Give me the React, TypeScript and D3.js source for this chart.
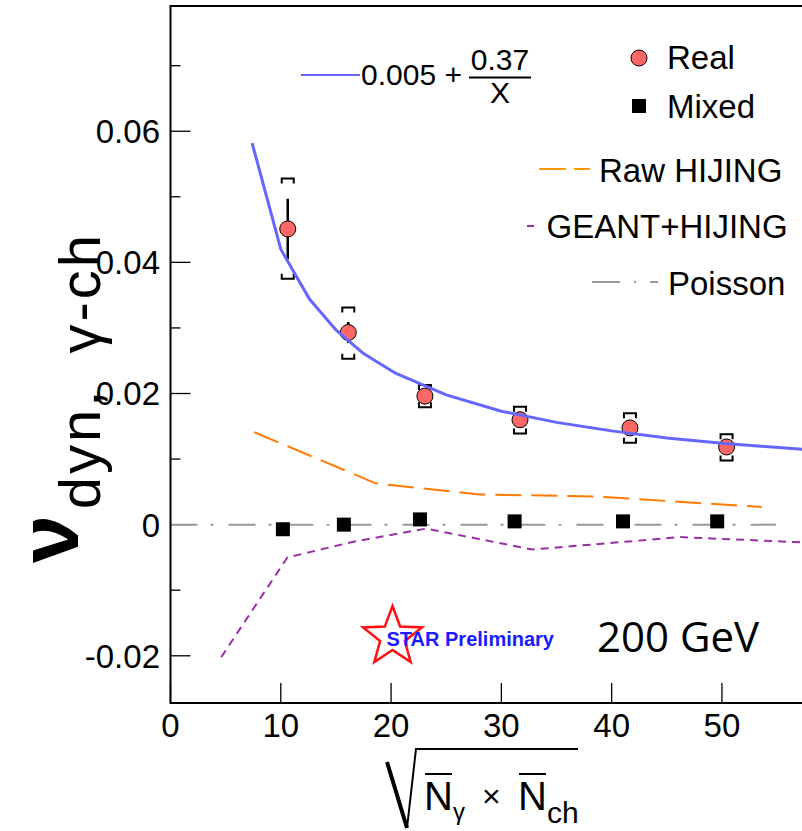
import React from 'react';
import * as d3 from 'd3';

// ---- data ----
const realX = [10.63, 16.12, 23.07, 31.69, 41.66, 50.42];
const realY = [0.0451, 0.0293, 0.0196, 0.016, 0.01475, 0.01185];
const realStat = [0.0046, 0.0016, 0.0008, 0.0008, 0.0008, 0.0008];
const realSysHi = [0.0528, 0.0331, 0.0213, 0.018, 0.017, 0.0138];
const realSysLo = [0.0375, 0.0253, 0.0179, 0.0139, 0.0125, 0.0098];

const mixedX = [10.19, 15.72, 22.62, 31.2, 41.03, 49.57];
const mixedY = [-0.0007, 0.0, 0.0008, 0.0005, 0.0005, 0.0005];

const fitX = [7.4, 10.0, 12.6, 15.0, 17.5, 20.4, 25, 30, 35, 40, 45, 50, 57.35];
const fitY = [0.0582, 0.042, 0.0344, 0.0297, 0.0261, 0.0231, 0.0198, 0.0173, 0.0156, 0.0143, 0.0132, 0.0124, 0.0115];

const rawX = [7.6, 18.6, 28.0, 38.5, 53.6];
const rawY = [0.0141, 0.0063, 0.0046, 0.0043, 0.0027];

const geantX = [4.6, 10.6, 16.6, 23.2, 32.8, 46.2, 57.35];
const geantY = [-0.0202, -0.005, -0.0026, -0.0006, -0.0038, -0.0019, -0.0027];

const poissonX = [0, 54.9];
const poissonY = [0, 0];

const xTicks = [0, 10, 20, 30, 40, 50];
const yTicks = [-0.02, 0, 0.02, 0.04, 0.06];
const yTickLabels = ['-0.02', '0', '0.02', '0.04', '0.06'];
const yMinor = [-0.01, 0.01, 0.03, 0.05, 0.07];

// ---- layout ----
const W = 802;
const H = 831;
const L = 170.5;
const R = 803;
const T = 6;
const B = 703;

const FONT = "'Liberation Sans', Arial, Helvetica, sans-serif";

export default function App() {
  const x = d3.scaleLinear().domain([0, 57.35]).range([L, R]);
  const y = d3.scaleLinear().domain([-0.0272, 0.0791]).range([B, T]);

  const line = d3
    .line<[number, number]>()
    .x((d) => x(d[0]))
    .y((d) => y(d[1]));

  const zip = (a: number[], b: number[]) => a.map((v, i) => [v, b[i]] as [number, number]);

  const star = (cx: number, cy: number, ro: number, ri: number) => {
    const pts: [number, number][] = [];
    for (let i = 0; i < 10; i++) {
      const a = -Math.PI / 2 + (i * Math.PI) / 5;
      const r = i % 2 === 0 ? ro : ri;
      pts.push([cx + r * Math.cos(a), cy + r * Math.sin(a)]);
    }
    return 'M' + pts.map((p) => p.join(',')).join('L') + 'Z';
  };

  const bw = 6; // half-width of systematic brackets
  const bl = 5; // leg length

  return (
    <svg
      width={W}
      height={H}
      style={{ position: 'absolute', left: 0, top: 0, background: '#fff' }}
      fontFamily={FONT}
    >
      <rect x={0} y={0} width={W} height={H} fill="#fff" />
      <defs>
        <clipPath id="plot">
          <rect x={L} y={T} width={R - L} height={B - T} />
        </clipPath>
      </defs>

      {/* y ticks */}
      {yTicks.map((t) => (
        <line key={'ym' + t} x1={L} x2={L + 20} y1={y(t)} y2={y(t)} stroke="#000" strokeWidth={1.3} />
      ))}
      {yMinor.map((t) => (
        <line key={'yn' + t} x1={L} x2={L + 10} y1={y(t)} y2={y(t)} stroke="#000" strokeWidth={1.3} />
      ))}
      {xTicks.map((t) => (
        <line key={'xm' + t} x1={x(t)} x2={x(t)} y1={B} y2={B - 20} stroke="#000" strokeWidth={1.3} />
      ))}

      {/* tick labels */}
      {yTicks.map((t, i) => (
        <text key={'yl' + t} x={160} y={y(t)} dy="0.36em" textAnchor="end" fontSize={33}>
          {yTickLabels[i]}
        </text>
      ))}
      {xTicks.map((t) => (
        <text key={'xl' + t} x={x(t)} y={737} textAnchor="middle" fontSize={33}>
          {t}
        </text>
      ))}

      <g clipPath="url(#plot)">
        {/* Poisson */}
        <path
          d={line(zip(poissonX, poissonY)) || ''}
          fill="none"
          stroke="#999"
          strokeWidth={2}
          strokeDasharray="27 13 3 15"
        />
        {/* Raw HIJING */}
        <path
          d={line(zip(rawX, rawY)) || ''}
          fill="none"
          stroke="#ff7a00"
          strokeWidth={2}
          strokeDasharray="26 10"
        />
        {/* GEANT+HIJING */}
        <path
          d={line(zip(geantX, geantY)) || ''}
          fill="none"
          stroke="#9a2fa5"
          strokeWidth={2}
          strokeDasharray="8 6"
        />

        {/* mixed */}
        {mixedX.map((v, i) => (
          <rect key={'mx' + i} x={x(v) - 7} y={y(mixedY[i]) - 7} width={14} height={14} fill="#000" />
        ))}

        {/* systematic brackets */}
        {realX.map((v, i) => {
          const cx = x(v);
          const yh = y(realSysHi[i]);
          const yl = y(realSysLo[i]);
          return (
            <g key={'sys' + i} fill="none" stroke="#000" strokeWidth={2}>
              <path d={`M${cx - bw},${yh + bl}V${yh}H${cx + bw}V${yh + bl}`} />
              <path d={`M${cx - bw},${yl - bl}V${yl}H${cx + bw}V${yl - bl}`} />
            </g>
          );
        })}
        {/* stat errors */}
        {realX.map((v, i) => (
          <line
            key={'st' + i}
            x1={x(v)}
            x2={x(v)}
            y1={y(realY[i] + realStat[i])}
            y2={y(realY[i] - realStat[i])}
            stroke="#000"
            strokeWidth={2.5}
          />
        ))}
        {/* real markers */}
        {realX.map((v, i) => (
          <circle key={'re' + i} cx={x(v)} cy={y(realY[i])} r={8} fill="#ff6666" stroke="#000" strokeWidth={1} />
        ))}

        {/* fit */}
        <path d={line(zip(fitX, fitY)) || ''} fill="none" stroke="#6666ff" strokeWidth={3} />
      </g>

      {/* frame */}
      <rect x={L} y={T} width={R + 10 - L} height={B - T} fill="none" stroke="#000" strokeWidth={2} />

      {/* fit legend */}
      <line x1={301} x2={360} y1={75} y2={75} stroke="#6666ff" strokeWidth={2} />
      <text x={361} y={85} fontSize={30}>0.005 +</text>
      <text x={500} y={70} fontSize={30} textAnchor="middle">0.37</text>
      <line x1={469} x2={531} y1={77.5} y2={77.5} stroke="#000" strokeWidth={2} />
      <text x={500} y={103} fontSize={30} textAnchor="middle">X</text>

      {/* right legend */}
      <circle cx={639} cy={58} r={8} fill="#ff6666" stroke="#000" strokeWidth={1} />
      <text x={667} y={69} fontSize={33}>Real</text>
      <rect x={632} y={99} width={14} height={14} fill="#000" />
      <text x={667} y={118} fontSize={33}>Mixed</text>

      <line x1={539} x2={590} y1={169} y2={169} stroke="#ff9900" strokeWidth={2} strokeDasharray="27 8" />
      <text x={599} y={181.5} fontSize={33}>Raw HIJING</text>
      <line x1={527} x2={534} y1={226} y2={226} stroke="#9a2fa5" strokeWidth={2} />
      <text x={546.5} y={238} fontSize={33}>GEANT+HIJING</text>
      <line x1={592} x2={658} y1={282} y2={282} stroke="#999" strokeWidth={2} strokeDasharray="28 14 2 14" />
      <text x={668} y={295} fontSize={33}>Poisson</text>

      {/* STAR preliminary */}
      <path d={star(392.5, 637, 31, 13)} fill="none" stroke="#ff1010" strokeWidth={2.5} strokeLinejoin="miter" />
      <text x={386.5} y={646} fontSize={20} fontWeight="bold" fill="#1a1aff">STAR Preliminary</text>
      <text x={597} y={652} fontSize={42} fontFamily="'Open Sans', sans-serif">200 GeV</text>

      {/* y-axis title */}
      <g transform="translate(78, 563) rotate(-90)">
        <text x={0} y={0} fontSize={86} fontWeight="bold">
          ν
          <tspan fontSize={58} fontWeight="normal" dy={22} dx={6} letterSpacing={3}>dyn,</tspan>
          <tspan fontSize={58} fontWeight="normal" dx={34} letterSpacing={3}>γ-ch</tspan>
        </text>
      </g>

      {/* x-axis title */}
      <path d="M387,762 L407,828" stroke="#000" strokeWidth={4} fill="none" />
      <path d="M407,828 L416,749 L578,749" stroke="#000" strokeWidth={2} fill="none" />
      <text x={424} y={810} fontSize={40}>N</text>
      <line x1={425} x2={452} y1={774} y2={774} stroke="#000" strokeWidth={2} />
      <text x={453} y={820} fontSize={24}>γ</text>
      <text x={482} y={807} fontSize={32}>×</text>
      <text x={518} y={810} fontSize={40}>N</text>
      <line x1={519} x2={546} y1={774} y2={774} stroke="#000" strokeWidth={2} />
      <text x={547} y={823} fontSize={30}>ch</text>
    </svg>
  );
}
